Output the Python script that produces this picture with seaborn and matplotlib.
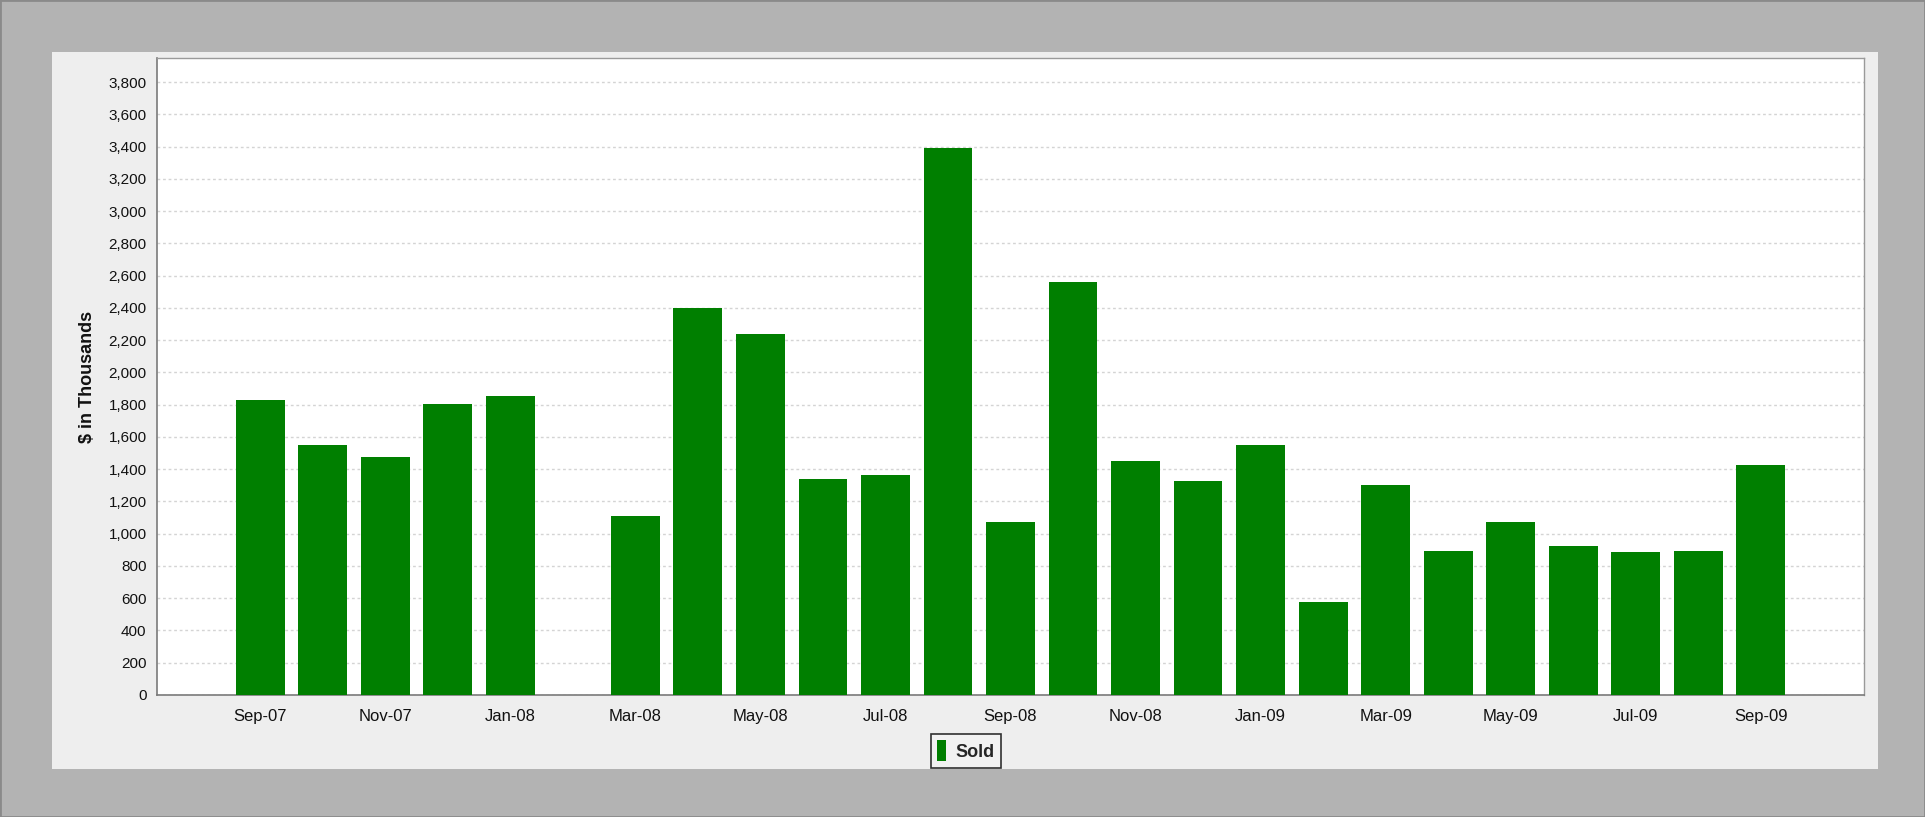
# monthly sold volume, bar chart

import numpy as np
import pandas as pd
import matplotlib
matplotlib.use("Agg")
import matplotlib.pyplot as plt
import matplotlib.patches as mpatches
from matplotlib.ticker import FuncFormatter, MultipleLocator
import seaborn as sns

# data
months = ["Sep-07", "Oct-07", "Nov-07", "Dec-07", "Jan-08", "Feb-08", "Mar-08",
          "Apr-08", "May-08", "Jun-08", "Jul-08", "Aug-08", "Sep-08", "Oct-08",
          "Nov-08", "Dec-08", "Jan-09", "Feb-09", "Mar-09", "Apr-09", "May-09",
          "Jun-09", "Jul-09", "Aug-09", "Sep-09"]
sold = [1830, 1550, 1475, 1805, 1855, 0, 1110,
        2400, 2240, 1340, 1365, 3395, 1075, 2560,
        1450, 1325, 1550, 575, 1300, 890, 1075,
        925, 885, 890, 1425]
series_name = "Sold"
y_label = "$ in Thousands"

df = pd.DataFrame({"month": months, "sold": sold})

sns.set_style("white")
plt.rcParams["font.family"] = ["Liberation Sans", "DejaVu Sans"]

W, H = 1925, 817
fig = plt.figure(figsize=(W / 100, H / 100), dpi=100, facecolor="#b3b3b3")

# outer thin border and light panel behind the axes
fig.patches.append(mpatches.Rectangle((0, 0), 1, 1, transform=fig.transFigure,
                                      facecolor="none", edgecolor="#8a8a8a", lw=2,
                                      zorder=-10))
fig.patches.append(mpatches.Rectangle((52 / W, 1 - 769 / H), (1878 - 52) / W, (769 - 52) / H,
                                      transform=fig.transFigure, facecolor="#eeeeee",
                                      edgecolor="none", zorder=-10))

ax = fig.add_axes([157 / W, 1 - 695 / H, (1864 - 157) / W, (695 - 58) / H])
ax.set_facecolor("white")

sns.barplot(data=df, x="month", y="sold", color="#007f00", saturation=1,
            width=0.78, edgecolor="none", ax=ax, zorder=3)

ax.set_xlim(-1.65, len(months) - 1 + 1.65)
ax.set_ylim(0, 3950)

ax.yaxis.set_major_locator(MultipleLocator(200))
ax.yaxis.set_major_formatter(FuncFormatter(lambda v, p: f"{int(v):,}"))
ax.grid(axis="y", color="#d4d4d4", linestyle=(0, (2, 2)), linewidth=1, zorder=0)
ax.grid(axis="x", visible=False)
ax.set_axisbelow(True)

ticks = np.arange(0, len(months), 2)
ax.set_xticks(ticks)
ax.set_xticklabels([months[i] for i in ticks])

ax.tick_params(axis="both", labelcolor="#111111", length=4,
               width=1, direction="out", color="#888888")
ax.tick_params(axis="y", labelsize=11)
ax.tick_params(axis="x", labelsize=12, pad=6)

for s in ["left", "bottom"]:
    ax.spines[s].set_color("#7a7a7a")
    ax.spines[s].set_linewidth(1.2)
for s in ["top", "right"]:
    ax.spines[s].set_color("#9a9a9a")
    ax.spines[s].set_linewidth(1)

ax.set_xlabel("")
ax.set_ylabel(y_label, fontsize=13, fontweight="bold", labelpad=9, color="#111111")

handle = mpatches.Patch(facecolor="#007f00", edgecolor="none")
leg = fig.legend([handle], [series_name], loc="upper center",
                 bbox_to_anchor=(966 / W, 1 - 725 / H), bbox_transform=fig.transFigure,
                 frameon=True, fancybox=False, handlelength=0.5, handleheight=1.4,
                 handletextpad=0.5, borderpad=0.35, prop={"weight": "bold", "size": 13})
leg.get_frame().set_edgecolor("black")
leg.get_frame().set_linewidth(1.2)
leg.get_frame().set_facecolor("#f4f4f4")

fig.savefig("out.png", dpi=100, facecolor=fig.get_facecolor())
